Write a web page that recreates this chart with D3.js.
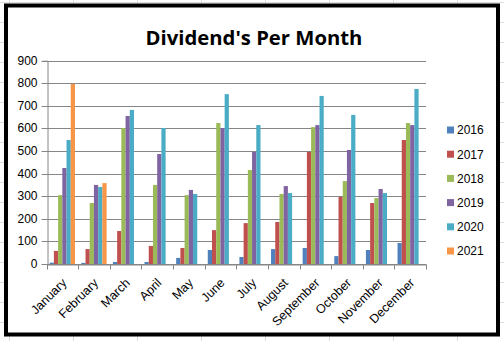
<!DOCTYPE html>
<html>
<head>
<meta charset="utf-8">
<script src="https://cdn.jsdelivr.net/npm/d3@7"></script>
<style>
  html, body { margin: 0; padding: 0; background: #fff; }
  svg { display: block; }
  text { font-family: "Open Sans", "Liberation Sans", sans-serif; }
</style>
</head>
<body>
<svg id="chart" width="504" height="341"></svg>
<script>
const months = ["January","February","March","April","May","June","July","August","September","October","November","December"];
const seriesNames = ["2016","2017","2018","2019","2020","2021"];
const s2016 = [6, 5, 9, 9, 27, 62, 31, 66, 71, 35, 62, 93];
const s2017 = [58, 66, 146, 80, 71, 150, 181, 186, 496, 297, 270, 549];
const s2018 = [305, 270, 602, 350, 305, 624, 416, 310, 606, 367, 292, 624];
const s2019 = [425, 350, 655, 487, 328, 602, 496, 345, 615, 505, 332, 615];
const s2020 = [549, 341, 682, 602, 310, 752, 615, 314, 744, 660, 314, 775];
const s2021 = [797, 358, null, null, null, null, null, null, null, null, null, null];
const yTicks = [0, 100, 200, 300, 400, 500, 600, 700, 800, 900];
const colors = ["#4F81BD", "#C0504D", "#9BBB59", "#8064A2", "#4BACC6", "#F79646"];
const titleText = "Dividend's Per Month";

const allSeries = [s2016, s2017, s2018, s2019, s2020, s2021];
const W = 504, H = 341;
const svg = d3.select("#chart");

// background spreadsheet cell grid
const bg = svg.append("g");
const cellXs = d3.range(9, W, 64);
const cellYs = d3.range(2, H, 20);
bg.selectAll("line.v").data(cellXs).join("line")
  .attr("x1", d => d + 0.5).attr("x2", d => d + 0.5).attr("y1", 0).attr("y2", H)
  .attr("stroke", "#dadcdd").attr("stroke-width", 1);
bg.selectAll("line.h").data(cellYs).join("line")
  .attr("y1", d => d + 0.5).attr("y2", d => d + 0.5).attr("x1", 0).attr("x2", W)
  .attr("stroke", "#dadcdd").attr("stroke-width", 1);

// chart box
svg.append("rect").attr("x", 6).attr("y", 5.5).attr("width", 492).attr("height", 329)
  .attr("fill", "#fff").attr("stroke", "#000").attr("stroke-width", 4);

const margin = { left: 46.5, right: 426, top: 60.7, bottom: 264 };
const x = d3.scaleBand().domain(months).range([margin.left, margin.right]).padding(0);
const xs = d3.scaleBand().domain(seriesNames).range([0, x.bandwidth()]).paddingInner(0).paddingOuter(0.75);
const y = d3.scaleLinear().domain([0, 900]).range([margin.bottom, margin.top]);

// gridlines
svg.append("g").selectAll("line").data(yTicks).join("line")
  .attr("x1", margin.left - 5).attr("x2", margin.right)
  .attr("y1", d => Math.round(y(d)) + 0.5).attr("y2", d => Math.round(y(d)) + 0.5)
  .attr("stroke", "#868686").attr("stroke-width", 1);

// y axis
const yAxis = d3.axisLeft(y).tickValues(yTicks).tickSize(5).tickPadding(5);
const gy = svg.append("g").attr("transform", `translate(${Math.round(margin.left) + 0.5},0)`).call(yAxis);
gy.selectAll(".tick").attr("transform", d => `translate(0,${Math.round(y(d)) + 0.5})`);
gy.select(".domain").attr("stroke", "#868686");
gy.selectAll(".tick line").attr("stroke", "#868686");
gy.selectAll(".tick text").attr("font-size", "12px").attr("fill", "#000")
  .style("font-family", "'Liberation Sans', Arial, sans-serif");

// bars
const groups = svg.append("g").selectAll("g").data(months).join("g")
  .attr("transform", d => `translate(${x(d)},0)`);
groups.selectAll("rect").data((m, i) => seriesNames.map((s, j) => ({ s, j, v: allSeries[j][i] })).filter(d => d.v != null))
  .join("rect")
  .attr("x", d => xs(d.s))
  .attr("width", xs.bandwidth())
  .attr("y", d => y(d.v))
  .attr("height", d => y(0) - y(d.v))
  .attr("fill", d => colors[d.j]);

// x axis
const xAxis = d3.axisBottom(x).tickSize(0).tickFormat("");
const gx = svg.append("g").attr("transform", `translate(0,${Math.round(margin.bottom) + 0.5})`).call(xAxis);
gx.select(".domain").attr("stroke", "#868686");
// category boundary ticks
const bounds = months.map(m => x(m)).concat([x(months[months.length - 1]) + x.bandwidth()]);
gx.selectAll("line.bt").data(bounds).join("line").attr("class", "bt")
  .attr("x1", d => Math.round(d) + 0.5).attr("x2", d => Math.round(d) + 0.5)
  .attr("y1", 0).attr("y2", 5).attr("stroke", "#868686");
gx.selectAll("text.lbl").data(months).join("text").attr("class", "lbl")
  .attr("transform", d => `translate(${x(d) + x.bandwidth() / 2 + 2},${16}) rotate(-45)`)
  .attr("text-anchor", "end").attr("dy", "0.35em")
  .attr("font-size", "12.5px").attr("fill", "#000")
  .style("font-family", "'Liberation Sans', Arial, sans-serif")
  .text(d => d);

// legend
const leg = svg.append("g").selectAll("g").data(seriesNames).join("g")
  .attr("transform", (d, i) => `translate(447,${130 + i * 24.2})`);
leg.append("rect").attr("x", 0).attr("y", -3.5).attr("width", 7).attr("height", 7)
  .attr("fill", (d, i) => colors[i]);
leg.append("text").attr("x", 10).attr("dy", "0.36em").attr("font-size", "12px")
  .style("font-family", "'Liberation Sans', Arial, sans-serif")
  .attr("fill", "#000").text(d => d);

// title
const title = svg.append("text").attr("x", 254).attr("y", 45)
  .attr("text-anchor", "middle").attr("font-weight", "bold").attr("font-size", "22px")
  .attr("fill", "#000").text(titleText);
const tw = title.node().getComputedTextLength();
title.attr("font-size", (22 * 217 / tw).toFixed(2) + "px");
</script>
</body>
</html>
